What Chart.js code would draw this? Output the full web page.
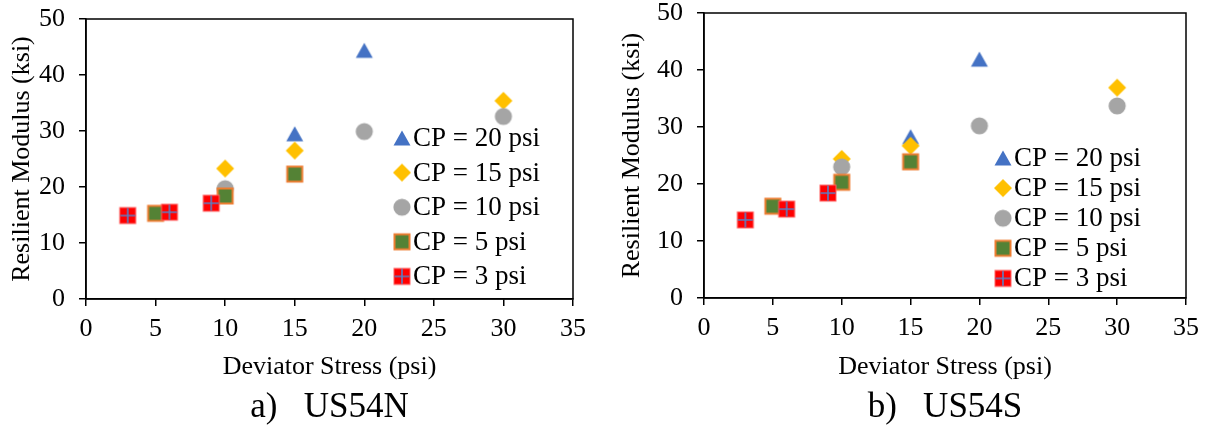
<!DOCTYPE html>
<html>
<head>
<meta charset="utf-8">
<script src="https://cdn.jsdelivr.net/npm/chart.js@4.4.1/dist/chart.umd.min.js"></script>
<style>
  html, body { margin: 0; padding: 0; background: #ffffff; }
  #wrap { position: relative; width: 1207px; height: 425px; overflow: hidden; }
  #chartN { position: absolute; left: 0; top: 0; }
  #chartS { position: absolute; left: 600px; top: 0; }
</style>
</head>
<body>
<div id="wrap">
  <canvas id="chartN" width="600" height="425"></canvas>
  <canvas id="chartS" width="607" height="425"></canvas>
</div>
<script>
// ---- data ----
const seriesNames = ['CP = 20 psi', 'CP = 15 psi', 'CP = 10 psi', 'CP = 5 psi', 'CP = 3 psi'];
const xTicks = [0, 5, 10, 15, 20, 25, 30, 35];
const yTicks = [0, 10, 20, 30, 40, 50];

// US54N: deviator stress (psi) / resilient modulus (ksi)
const n20x = [15, 20];        const n20y = [29.5, 44.4];
const n15x = [10, 15, 30];    const n15y = [23.3, 26.5, 35.4];
const n10x = [10, 20, 30];    const n10y = [19.7, 29.9, 32.6];
const n5x  = [5, 10, 15];     const n5y  = [15.3, 18.4, 22.3];
const n3x  = [3, 6, 9];       const n3y  = [14.9, 15.5, 17.1];

// US54S
const s20x = [15, 20];        const s20y = [28.3, 41.9];
const s15x = [10, 15, 30];    const s15y = [24.4, 26.7, 36.9];
const s10x = [10, 20, 30];    const s10y = [23.0, 30.2, 33.7];
const s5x  = [5, 10, 15];     const s5y  = [16.1, 20.3, 23.9];
const s3x  = [3, 6, 9];       const s3y  = [13.7, 15.6, 18.4];

const FONT = "'Liberation Serif', 'Times New Roman', serif";

// ---- marker bitmaps ----
function markerCanvas(draw) {
  const c = document.createElement('canvas');
  c.width = 20; c.height = 20;
  const g = c.getContext('2d');
  draw(g);
  return c;
}
const markers = [
  markerCanvas(g => {            // triangle
    g.fillStyle = '#4472C4';
    g.beginPath();
    g.moveTo(10, 2.5); g.lineTo(18.5, 17.5); g.lineTo(1.5, 17.5); g.closePath();
    g.fill();
  }),
  markerCanvas(g => {            // diamond
    g.fillStyle = '#FFC000';
    g.beginPath();
    g.moveTo(10, 1); g.lineTo(19, 10); g.lineTo(10, 19); g.lineTo(1, 10); g.closePath();
    g.fill();
  }),
  markerCanvas(g => {            // circle
    g.fillStyle = '#A5A5A5';
    g.beginPath(); g.arc(10, 10, 8.6, 0, Math.PI * 2); g.fill();
  }),
  markerCanvas(g => {            // green square, orange edge
    g.fillStyle = '#ED7D31'; g.fillRect(1.5, 1.5, 17, 17);
    g.fillStyle = '#548235'; g.fillRect(3.5, 3.5, 13, 13);
  }),
  markerCanvas(g => {            // red square with cross
    g.fillStyle = '#FF6060'; g.fillRect(1.5, 1.5, 17, 17);
    g.fillStyle = '#FF0000'; g.fillRect(2.5, 2.5, 15, 15);
    g.strokeStyle = '#5B7FC4'; g.lineWidth = 1.6;
    g.beginPath();
    g.moveTo(10, 2.5); g.lineTo(10, 17.5);
    g.moveTo(2.5, 10); g.lineTo(17.5, 10);
    g.stroke();
  })
];

function pts(xs, ys) { return xs.map((x, i) => ({ x: x, y: ys[i] })); }

// frame around the plot area
const framePlugin = {
  id: 'frame',
  beforeDatasetsDraw(chart) {
    const a = chart.chartArea, ctx = chart.ctx;
    ctx.save();
    ctx.strokeStyle = '#000'; ctx.lineWidth = 1.5;
    ctx.strokeRect(a.left, a.top, a.right - a.left, a.bottom - a.top);
    ctx.restore();
  }
};

// series key drawn inside the plot area
const keyPlugin = {
  id: 'seriesKey',
  afterDatasetsDraw(chart, args, opts) {
    const ctx = chart.ctx;
    ctx.save();
    ctx.font = '27px ' + FONT;
    ctx.fillStyle = '#000';
    ctx.textAlign = 'left';
    ctx.textBaseline = 'middle';
    chart.data.datasets.forEach((ds, i) => {
      const y = opts.y0 + i * opts.dy;
      const m = ds.pointStyle;
      ctx.drawImage(m, opts.x - m.width / 2, y - m.height / 2);
      ctx.fillText(ds.label, opts.x + 11, y + 1);
    });
    ctx.restore();
  }
};

function clearScalePadding(s) {
  s.paddingTop = 0; s.paddingBottom = 0; s.paddingLeft = 0; s.paddingRight = 0;
}

function buildChart(id, series, caption, geo) {
  const datasets = series.map((s, i) => ({
    label: seriesNames[i],
    data: pts(s[0], s[1]),
    pointStyle: markers[i],
    pointRadius: 9,
    pointHoverRadius: 9,
    showLine: false,
    order: 5 - i
  }));
  return new Chart(document.getElementById(id), {
    type: 'scatter',
    data: { datasets },
    plugins: [framePlugin, keyPlugin],
    options: {
      responsive: false,
      animation: false,
      events: [],
      layout: { autoPadding: false, padding: { top: geo.top, right: geo.right, left: 0, bottom: 0 } },
      plugins: {
        legend: { display: false },
        tooltip: { enabled: false },
        title: {
          display: true,
          text: caption,
          position: 'bottom',
          fullSize: false,
          color: '#000',
          font: { family: FONT, size: 35, lineHeight: 1, weight: 'normal' },
          padding: 0
        },
        seriesKey: geo.key
      },
      scales: {
        x: {
          type: 'linear',
          min: xTicks[0], max: xTicks[xTicks.length - 1],
          afterFit: s => { s.height = geo.xh; clearScalePadding(s); },
          afterBuildTicks: s => { s.ticks = xTicks.map(v => ({ value: v })); },
          ticks: { color: '#000', font: { family: FONT, size: 26 }, padding: 8, maxRotation: 0 },
          grid: { display: true, drawOnChartArea: false, drawTicks: true, tickLength: 7, color: '#000', lineWidth: 1.5 },
          border: { display: true, color: '#000', width: 1.5 },
          title: { display: true, text: 'Deviator Stress (psi)', color: '#000',
                   font: { family: FONT, size: 26 }, padding: { top: 0, bottom: 7 } }
        },
        y: {
          type: 'linear',
          min: yTicks[0], max: yTicks[yTicks.length - 1],
          afterFit: s => { s.width = geo.yw; clearScalePadding(s); },
          afterBuildTicks: s => { s.ticks = yTicks.map(v => ({ value: v })); },
          ticks: { color: '#000', font: { family: FONT, size: 26 }, padding: 14 },
          grid: { display: true, drawOnChartArea: false, drawTicks: true, tickLength: 7, color: '#000', lineWidth: 1.5 },
          border: { display: true, color: '#000', width: 1.5 },
          title: { display: true, text: 'Resilient Modulus (ksi)', color: '#000',
                   font: { family: FONT, size: 26 }, padding: { top: geo.ytPad, bottom: 0 } }
        }
      }
    }
  });
}

function draw() {
  buildChart('chartN',
    [[n20x, n20y], [n15x, n15y], [n10x, n10y], [n5x, n5y], [n3x, n3y]],
    'a)   US54N',
    { top: 19, right: 27, yw: 86, xh: 91, ytPad: 7, key: { x: 402, y0: 138, dy: 34.6 } });
  buildChart('chartS',
    [[s20x, s20y], [s15x, s15y], [s10x, s10y], [s5x, s5y], [s3x, s3y]],
    'b)   US54S',
    { top: 13, right: 21, yw: 104, xh: 92, ytPad: 17, key: { x: 403, y0: 158, dy: 30.1 } });
}

if (document.fonts && document.fonts.load) {
  document.fonts.load('24px "Liberation Serif"').then(draw, draw);
} else {
  draw();
}
</script>
</body>
</html>
